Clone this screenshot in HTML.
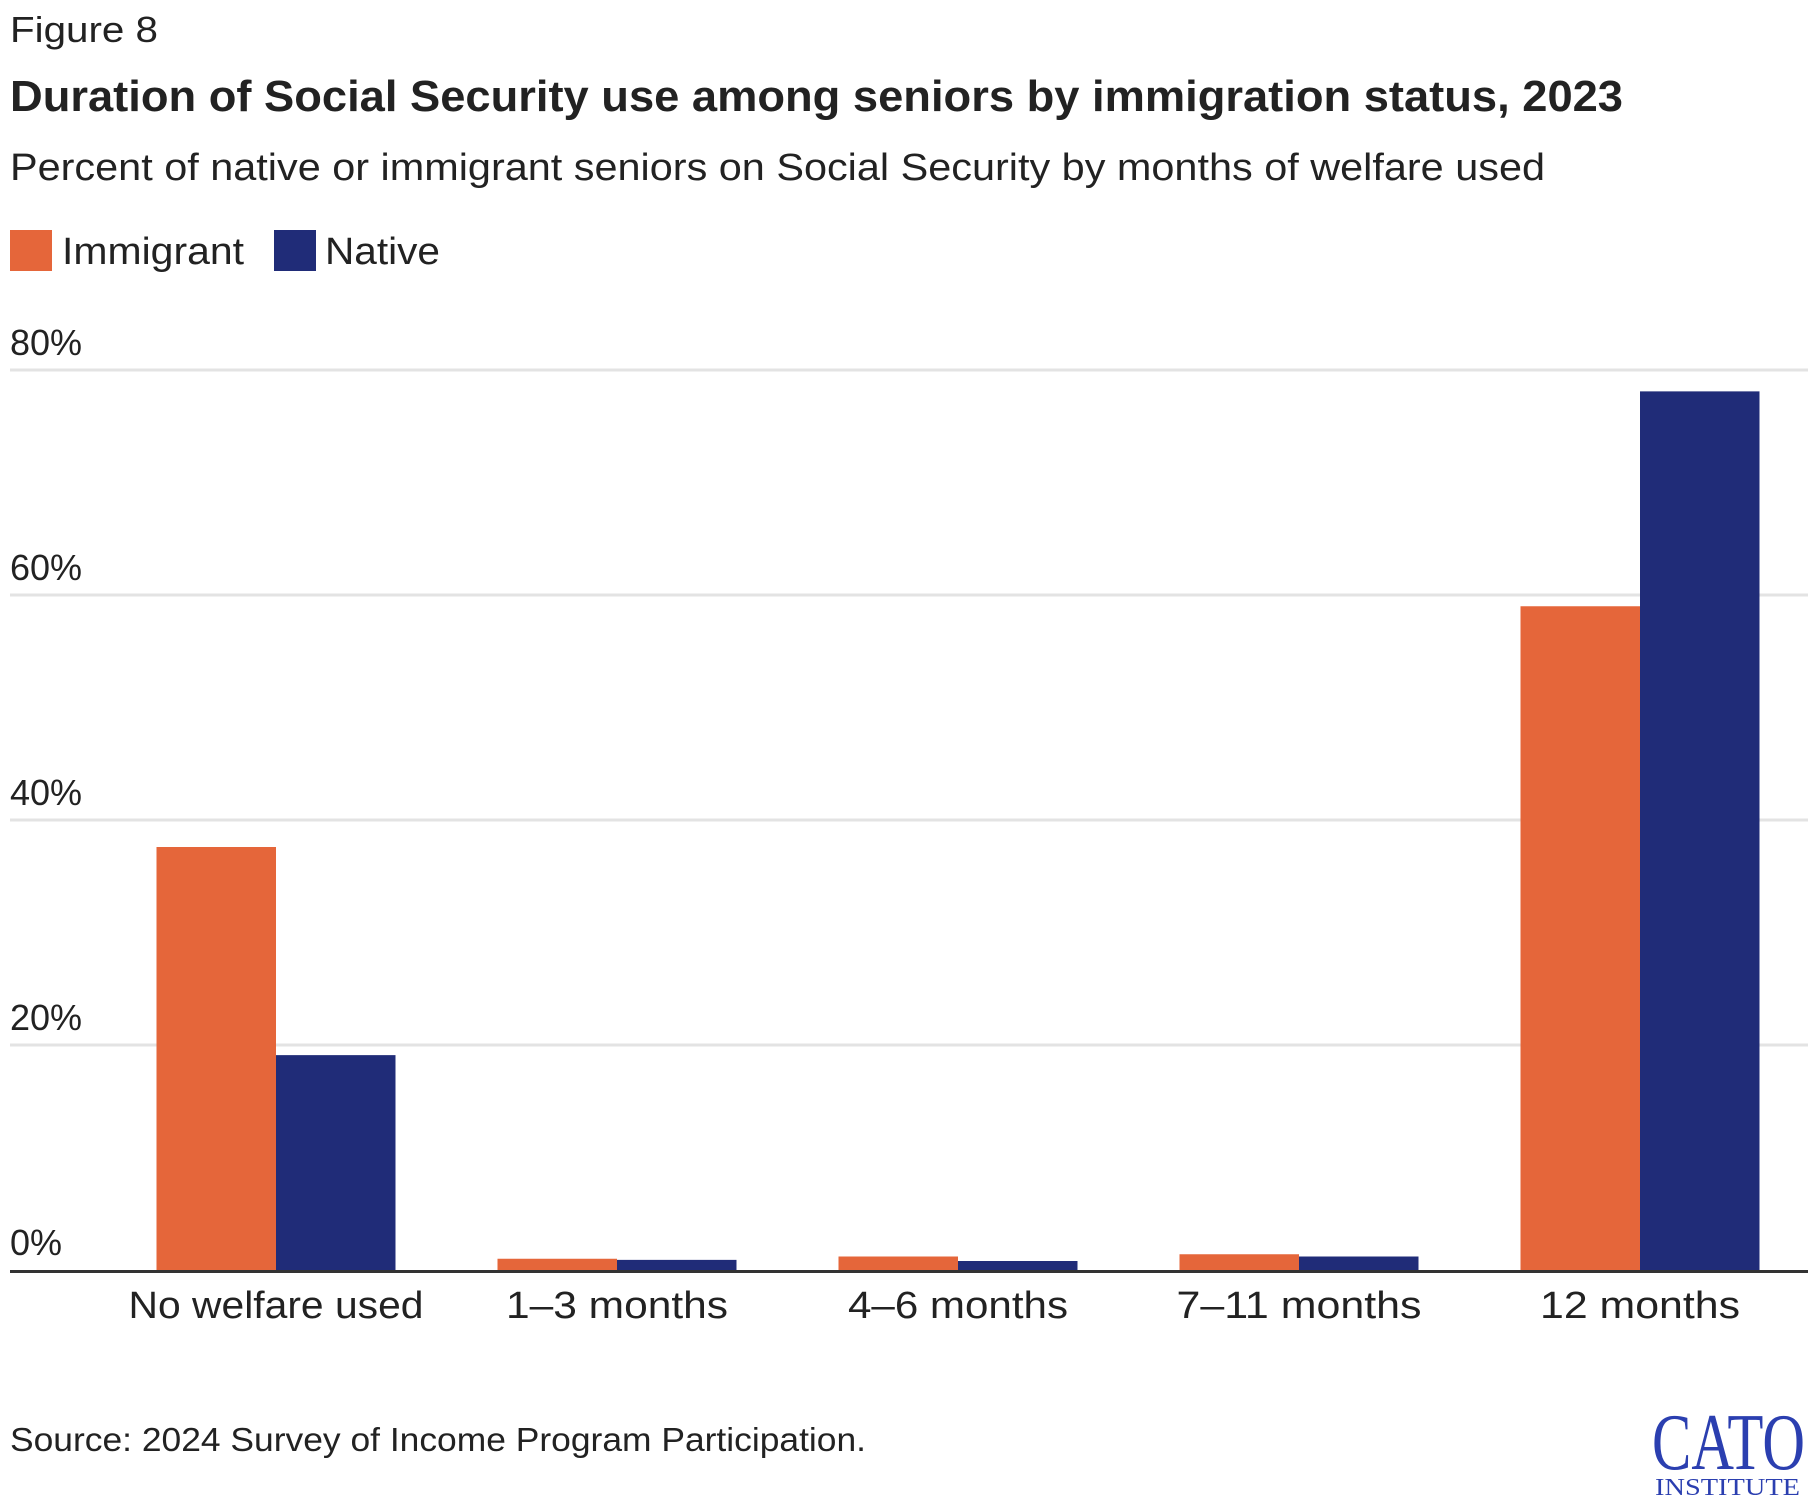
<!DOCTYPE html>
<html><head><meta charset="utf-8"><style>
html,body{margin:0;padding:0;background:#fff;}
svg{display:block;font-family:"Liberation Sans",sans-serif;}
</style></head><body>
<svg id="chart" width="1820" height="1508" viewBox="0 0 1820 1508" xmlns="http://www.w3.org/2000/svg">
<text x="10" y="42" font-size="36" fill="#222" textLength="148" lengthAdjust="spacingAndGlyphs">Figure 8</text>
<text x="10" y="111" font-size="44" font-weight="bold" fill="#222" textLength="1613" lengthAdjust="spacingAndGlyphs">Duration of Social Security use among seniors by immigration status, 2023</text>
<text x="10" y="180" font-size="38" fill="#222" textLength="1535" lengthAdjust="spacingAndGlyphs">Percent of native or immigrant seniors on Social Security by months of welfare used</text>
<g>
<rect x="10" y="230" width="42" height="41" fill="#e5663a"/>
<text x="62" y="264" font-size="38" fill="#222" textLength="182" lengthAdjust="spacingAndGlyphs">Immigrant</text>
<rect x="274" y="230" width="42" height="41" fill="#202c78"/>
<text x="325" y="264" font-size="38" fill="#222" textLength="115" lengthAdjust="spacingAndGlyphs">Native</text>
</g>
<g id="grid"></g>
<g id="bars"></g>
<g id="xlabels"></g>
<text x="10" y="1451" font-size="33" fill="#222" textLength="856" lengthAdjust="spacingAndGlyphs">Source: 2024 Survey of Income Program Participation.</text>
<g>
<text x="1652" y="1469" font-family="Liberation Serif,serif" font-size="80" fill="#2b3fb0" textLength="153" lengthAdjust="spacingAndGlyphs">CATO</text>
<text x="1655" y="1495" font-family="Liberation Serif,serif" font-size="24" fill="#2b3fb0" textLength="145" lengthAdjust="spacingAndGlyphs">INSTITUTE</text>
</g>
</svg>
<script>
const categories = ["No welfare used", "1\u20133 months", "4\u20136 months", "7\u201311 months", "12 months"];
const immigrantValues = [37.6, 1.0, 1.2, 1.4, 59.0];
const nativeValues = [19.1, 0.9, 0.8, 1.2, 78.1];
const yTicks = [0, 20, 40, 60, 80];
const yTickLabels = ["0%", "20%", "40%", "60%", "80%"];
const labelWidths = [295, 222, 220, 245, 200];

const NS = "http://www.w3.org/2000/svg";
const y0 = 1270, pxPerUnit = 900 / 80;
function yScale(v){ return y0 - v * pxPerUnit; }
function xCenter(i){ return 276 + i * 341; }
const barW = 119.5;

const grid = document.getElementById('grid');
yTicks.forEach((t, i) => {
  if (t !== 0) {
    const l = document.createElementNS(NS, 'line');
    
    
    l.setAttribute('x1', 10); l.setAttribute('x2', 1808);
    l.setAttribute('y1', yScale(t)); l.setAttribute('y2', yScale(t));
    l.setAttribute('stroke', '#e3e3e3'); l.setAttribute('stroke-width', 3);
    grid.appendChild(l);
  }
  const tx = document.createElementNS(NS, 'text');
  
  
  tx.setAttribute('x', 10); tx.setAttribute('y', yScale(t) - 15);
  tx.setAttribute('font-size', 36); tx.setAttribute('fill', '#222');
  tx.textContent = yTickLabels[i];
  grid.appendChild(tx);
});

const bars = document.getElementById('bars');
categories.forEach((c, i) => {
  const cx = xCenter(i);
  [[immigrantValues[i], '#e5663a', cx - barW, 'bar-immigrant'], [nativeValues[i], '#202c78', cx, 'bar-native']].forEach(([v, col, x, nm]) => {
    const r = document.createElementNS(NS, 'rect');
    
    
    r.setAttribute('x', x); r.setAttribute('width', barW);
    r.setAttribute('y', yScale(v)); r.setAttribute('height', y0 - yScale(v));
    r.setAttribute('fill', col);
    bars.appendChild(r);
  });
  const t = document.createElementNS(NS, 'text');
  
  
  t.setAttribute('x', cx - labelWidths[i] / 2); t.setAttribute('y', 1318);
  t.setAttribute('font-size', 38); t.setAttribute('fill', '#222');
  t.setAttribute('textLength', labelWidths[i]); t.setAttribute('lengthAdjust', 'spacingAndGlyphs');
  t.textContent = c;
  document.getElementById('xlabels').appendChild(t);
});
const ax = document.createElementNS(NS, 'line');


ax.setAttribute('x1', 10); ax.setAttribute('x2', 1808);
ax.setAttribute('y1', y0 + 1.5); ax.setAttribute('y2', y0 + 1.5);
ax.setAttribute('stroke', '#333'); ax.setAttribute('stroke-width', 3);
bars.appendChild(ax);
</script>
</body></html>
